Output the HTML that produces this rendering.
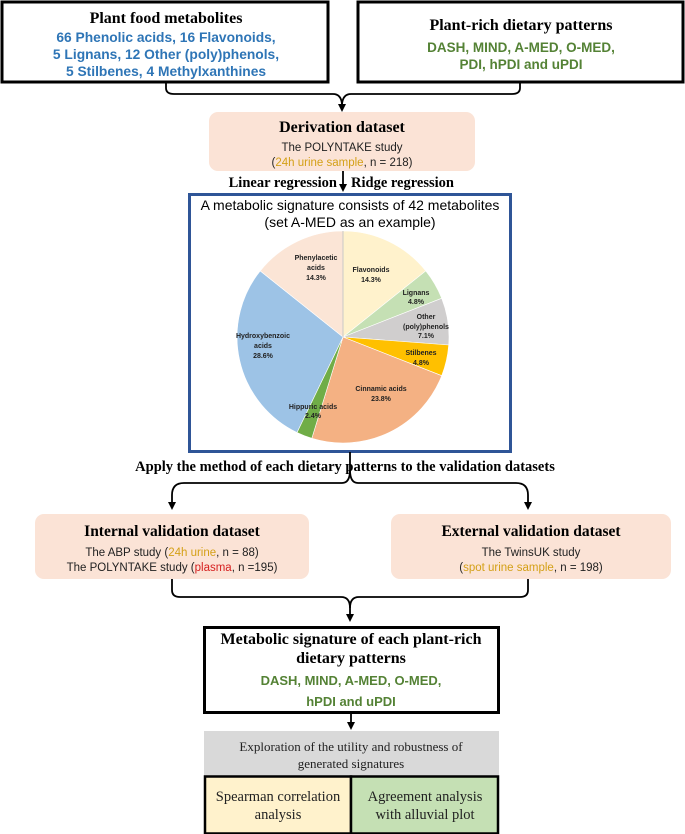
<!DOCTYPE html>
<html><head><meta charset="utf-8"><style>
html,body{margin:0;padding:0;background:#fff;}
svg{display:block;}
.ser{font-family:"Liberation Serif",serif;font-weight:bold;}
.sans{font-family:"Liberation Sans",sans-serif;}
.pl{font-family:"Liberation Sans",sans-serif;font-weight:bold;font-size:7px;fill:#222;text-anchor:middle;}
</style></head><body>
<svg width="685" height="834" viewBox="0 0 685 834" xmlns="http://www.w3.org/2000/svg">
<defs><marker id="ah" markerWidth="8" markerHeight="8" refX="4" refY="4" orient="auto" markerUnits="userSpaceOnUse"><path d="M0,0 L8,4 L0,8 z" fill="#000"/></marker></defs>

<rect x="2" y="2" width="326" height="80" fill="#fff" stroke="#000" stroke-width="3"/>
<rect x="358" y="2" width="325" height="80" fill="#fff" stroke="#000" stroke-width="3"/>
<text x="166" y="23" class="ser" font-size="16" text-anchor="middle">Plant food metabolites</text>
<g class="sans" font-weight="bold" font-size="13.8" fill="#2e75b6" text-anchor="middle">
<text x="166" y="42">66 Phenolic acids, 16 Flavonoids,</text>
<text x="166" y="59">5 Lignans, 12 Other (poly)phenols,</text>
<text x="166" y="76">5 Stilbenes, 4 Methylxanthines</text>
</g>
<text x="521" y="30" class="ser" font-size="16" text-anchor="middle">Plant-rich dietary patterns</text>
<g class="sans" font-weight="bold" font-size="13.5" fill="#548235" text-anchor="middle">
<text x="521" y="52">DASH, MIND, A-MED, O-MED,</text>
<text x="521" y="69">PDI, hPDI and uPDI</text>
</g>
<path d="M166,82 V88 Q166,94 174,94 H333 Q341,94 342,104" fill="none" stroke="#000" stroke-width="1.8"/>
<path d="M520,82 V88 Q520,94 512,94 H351 Q343,94 342,104 V108" fill="none" stroke="#000" stroke-width="1.8" marker-end="url(#ah)"/>

<rect x="209" y="112" width="266" height="59" rx="9" fill="#fbe3d6"/>
<text x="342" y="132" class="ser" font-size="16" text-anchor="middle">Derivation dataset</text>
<text x="342" y="151" class="sans" font-size="11.5" text-anchor="middle" fill="#222">The POLYNTAKE study</text>
<text x="342" y="166" class="sans" font-size="11.5" text-anchor="middle" fill="#222">(<tspan fill="#d4a017">24h urine sample</tspan>, n = 218)</text>
<text x="337" y="187" class="ser" font-size="14.5" text-anchor="end">Linear regression</text>
<text x="351" y="187" class="ser" font-size="14.5">Ridge regression</text>
<line x1="343" y1="171" x2="343" y2="188" stroke="#000" stroke-width="1.8" marker-end="url(#ah)"/>

<rect x="189.5" y="194.5" width="321" height="257" fill="#fff" stroke="#2f5597" stroke-width="3"/>
<text x="350" y="210" class="sans" font-size="14" text-anchor="middle">A metabolic signature consists of 42 metabolites</text>
<text x="350" y="227" class="sans" font-size="14" text-anchor="middle">(set A-MED as an example)</text>
<g stroke="#fff" stroke-width="0.6">
<path d="M343,337 L343,231 A106,106 0 0 1 425.8,270.9 Z" fill="#fff2cc"/>
<path d="M343,337 L425.8,270.9 A106,106 0 0 1 441.7,298.3 Z" fill="#c5e0b4"/>
<path d="M343,337 L441.7,298.3 A106,106 0 0 1 448.7,345 Z" fill="#d0cece"/>
<path d="M343,337 L448.7,345 A106,106 0 0 1 441.7,375.7 Z" fill="#ffc000"/>
<path d="M343,337 L441.7,375.7 A106,106 0 0 1 311.8,438.3 Z" fill="#f4b183"/>
<path d="M343,337 L311.8,438.3 A106,106 0 0 1 297,432.5 Z" fill="#70ad47"/>
<path d="M343,337 L297,432.5 A106,106 0 0 1 260.2,270.9 Z" fill="#9dc3e6"/>
<path d="M343,337 L260.2,270.9 A106,106 0 0 1 343,231 Z" fill="#fbe5d6"/>
</g>
<line x1="343" y1="231" x2="343" y2="337" stroke="#bbb" stroke-width="0.8"/>
<text class="pl" x="316" y="260">Phenylacetic</text><text class="pl" x="316" y="270">acids</text><text class="pl" x="316" y="280">14.3%</text>
<text class="pl" x="371" y="272">Flavonoids</text><text class="pl" x="371" y="282">14.3%</text>
<text class="pl" x="416" y="295">Lignans</text><text class="pl" x="416" y="304">4.8%</text>
<text class="pl" x="426" y="319">Other</text><text class="pl" x="426" y="329">(poly)phenols</text><text class="pl" x="426" y="338">7.1%</text>
<text class="pl" x="421" y="355">Stilbenes</text><text class="pl" x="421" y="365">4.8%</text>
<text class="pl" x="381" y="391">Cinnamic acids</text><text class="pl" x="381" y="401">23.8%</text>
<text class="pl" x="313" y="409">Hippuric acids</text><text class="pl" x="313" y="418">2.4%</text>
<text class="pl" x="263" y="338">Hydroxybenzoic</text><text class="pl" x="263" y="348">acids</text><text class="pl" x="263" y="358">28.6%</text>

<text x="345" y="471" class="ser" font-size="14.5" text-anchor="middle">Apply the method of each dietary patterns to the validation datasets</text>
<path d="M350,452 V470 Q350,483 342,483 H184 Q172,483 172,495 V506" fill="none" stroke="#000" stroke-width="1.8" marker-end="url(#ah)"/>
<path d="M350,470 Q350,483 358,483 H516 Q528,483 528,495 V506" fill="none" stroke="#000" stroke-width="1.8" marker-end="url(#ah)"/>

<rect x="35" y="514" width="274" height="65" rx="9" fill="#fbe3d6"/>
<rect x="391" y="514" width="280" height="65" rx="9" fill="#fbe3d6"/>
<text x="172" y="536" class="ser" font-size="15.5" text-anchor="middle">Internal validation dataset</text>
<text x="172" y="556" class="sans" font-size="11.5" text-anchor="middle" fill="#222">The ABP study (<tspan fill="#d4a017">24h urine</tspan>, n = 88)</text>
<text x="172" y="571" class="sans" font-size="11.5" text-anchor="middle" fill="#222">The POLYNTAKE study (<tspan fill="#d62020">plasma</tspan>, n =195)</text>
<text x="531" y="536" class="ser" font-size="15.5" text-anchor="middle">External validation dataset</text>
<text x="531" y="556" class="sans" font-size="11.5" text-anchor="middle" fill="#222">The TwinsUK study</text>
<text x="531" y="571" class="sans" font-size="11.5" text-anchor="middle" fill="#222">(<tspan fill="#d4a017">spot urine sample</tspan>, n = 198)</text>

<path d="M172,579 V590 Q172,597 180,597 H341 Q350,597 350,608" fill="none" stroke="#000" stroke-width="1.8"/>
<path d="M528,579 V590 Q528,597 520,597 H359 Q350,597 350,608 V618" fill="none" stroke="#000" stroke-width="1.8" marker-end="url(#ah)"/>

<rect x="204.5" y="627.5" width="294" height="85" fill="#fff" stroke="#000" stroke-width="3"/>
<text x="351" y="644" class="ser" font-size="16" text-anchor="middle">Metabolic signature of each plant-rich</text>
<text x="351" y="663" class="ser" font-size="16" text-anchor="middle">dietary patterns</text>
<text x="351" y="685" class="sans" font-weight="bold" font-size="13" fill="#548235" text-anchor="middle">DASH, MIND, A-MED, O-MED,</text>
<text x="351" y="706" class="sans" font-weight="bold" font-size="13" fill="#548235" text-anchor="middle">hPDI and uPDI</text>
<line x1="351" y1="713" x2="351" y2="726" stroke="#000" stroke-width="1.8" marker-end="url(#ah)"/>

<rect x="204" y="731" width="295" height="45" fill="#d9d9d9"/>
<text x="351" y="751" font-family="Liberation Serif,serif" font-size="13" text-anchor="middle" fill="#222">Exploration of the utility and robustness of</text>
<text x="351" y="768" font-family="Liberation Serif,serif" font-size="13" text-anchor="middle" fill="#222">generated signatures</text>
<rect x="205" y="776.5" width="146" height="57" fill="#fff2cc" stroke="#000" stroke-width="2.5"/>
<rect x="351" y="776.5" width="147" height="57" fill="#c5e0b4" stroke="#000" stroke-width="2.5"/>
<text x="278" y="801" font-family="Liberation Serif,serif" font-size="14.5" text-anchor="middle" fill="#222">Spearman correlation</text>
<text x="278" y="819" font-family="Liberation Serif,serif" font-size="14.5" text-anchor="middle" fill="#222">analysis</text>
<text x="425" y="801" font-family="Liberation Serif,serif" font-size="14.5" text-anchor="middle" fill="#222">Agreement analysis</text>
<text x="425" y="819" font-family="Liberation Serif,serif" font-size="14.5" text-anchor="middle" fill="#222">with alluvial plot</text>
</svg>
</body></html>
